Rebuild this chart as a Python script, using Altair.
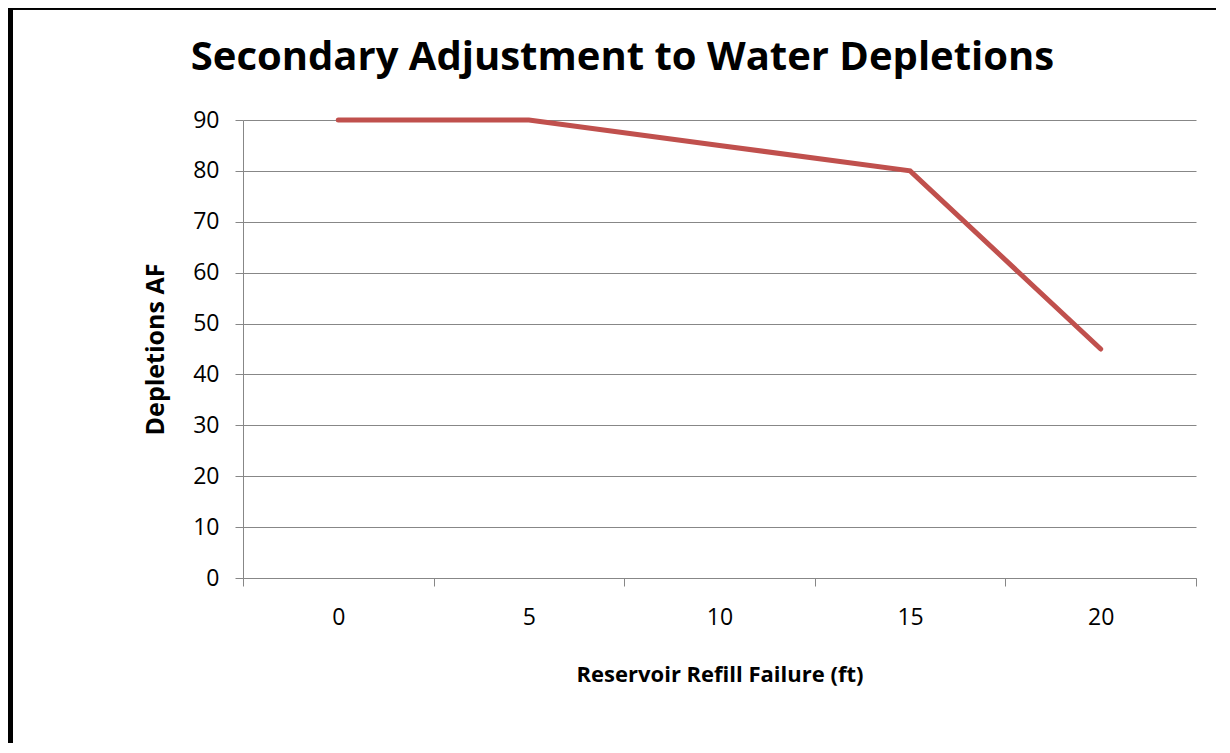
import altair as alt
import pandas as pd

refill_failure_ft = [0, 5, 10, 15, 20]
depletions_af = [90, 90, 85, 80, 45]
y_ticks = [0, 10, 20, 30, 40, 50, 60, 70, 80, 90]

df = pd.DataFrame({"x": refill_failure_ft, "y": depletions_af})

FONT = "Open Sans, Lato, sans-serif"
GRAY = "#878787"

line = alt.Chart(df).mark_line(color="#C0504D", strokeWidth=5, strokeCap="round").encode(
    x=alt.X(
        "x:O",
        sort=refill_failure_ft,
        bandPosition=0.5,
        scale=alt.Scale(type="band", paddingInner=0, paddingOuter=0),
        axis=alt.Axis(
            title="Reservoir Refill Failure (ft)",
            tickBand="extent",
            labelAngle=0,
            labelFontSize=23,
            labelPadding=20,
            labelColor="#000000",
            tickSize=8,
            tickColor=GRAY,
            domainColor=GRAY,
            grid=False,
            titleFontSize=22,
            titleFontWeight="bold",
            titleColor="#000000",
            titleY=96,
            titleBaseline="middle",
        ),
    ),
    y=alt.Y(
        "y:Q",
        scale=alt.Scale(domain=[0, 90], nice=False),
        axis=alt.Axis(
            title="Depletions AF",
            values=y_ticks,
            labelFontSize=23,
            labelPadding=16,
            labelColor="#000000",
            tickSize=8,
            tickColor=GRAY,
            domainColor=GRAY,
            grid=True,
            gridColor=GRAY,
            titleFontSize=25,
            titleFontWeight="bold",
            titleColor="#000000",
            titleX=-88,
            titleY=229,
            titleBaseline="middle",
            titleAlign="center",
        ),
    ),
)

frame = alt.Chart(df).mark_rect(fill="transparent", stroke="#000000", strokeWidth=5).encode(
    x=alt.value(-232.5),
    x2=alt.value(1100),
    y=alt.value(-113),
    y2=alt.value(800),
)

chart = alt.layer(line, frame).properties(
    width=953,
    height=458,
    padding={"left": 235, "top": 112, "right": 20, "bottom": 165},
    autosize=alt.AutoSizeParams(type="none"),
    title=alt.TitleParams(
        "Secondary Adjustment to Water Depletions",
        fontSize=40,
        fontWeight="bold",
        color="#000000",
        anchor="middle",
        dx=-97,
        offset=-105,
        baseline="alphabetic",
    ),
).configure(font=FONT).configure_view(strokeWidth=0)

chart.save("out.html", embed_options={"renderer": "svg", "actions": False})
